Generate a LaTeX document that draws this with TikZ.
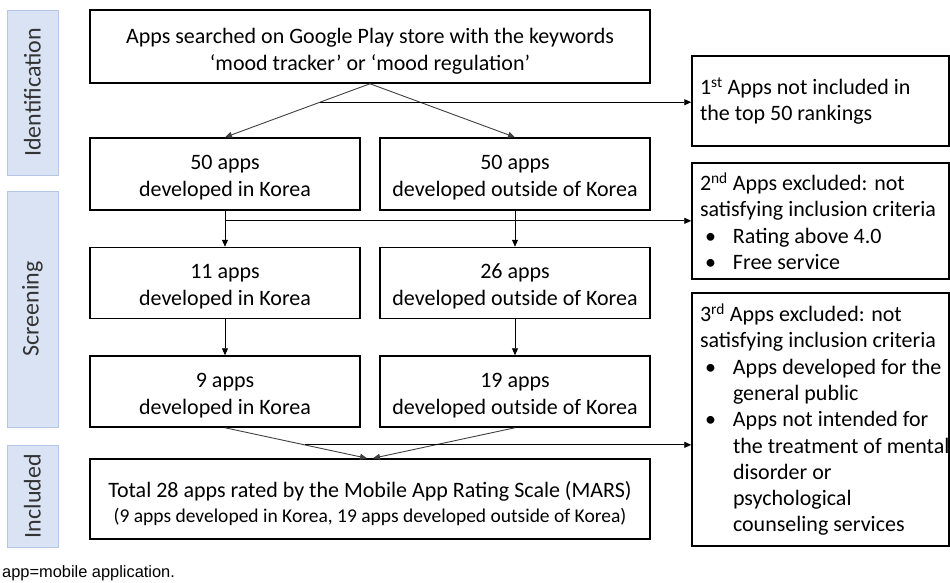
\documentclass[tikz,border=0pt]{standalone}
\usepackage{fontspec}
\setmainfont{Carlito}
\newfontfamily\notefont{Liberation Sans}
\usetikzlibrary{arrows.meta,calc}
\definecolor{sideFill}{HTML}{DAE3F3}
\definecolor{sideBorder}{HTML}{B4C7E7}
\newcommand{\bulletItem}[1]{\mbox{\hspace*{5pt}\makebox[28pt][l]{\textbullet}#1}}
\newcommand{\bulletCont}[1]{\mbox{\hspace*{33pt}#1}}
\newcommand{\boxStrut}[1]{\rule{0pt}{#1}}

\begin{document}
\begin{tikzpicture}[x=1pt, y=-1pt,
    boxStyle/.style={rectangle, draw, line width=1.5pt, align=center, inner sep=0pt, font=\fontsize{22}{27}\selectfont},
    exclStyle/.style={rectangle, draw, line width=1.5pt, align=flush left, inner xsep=8pt, inner ysep=0pt, text width=241pt, font=\fontsize{22}{26.3}\selectfont},
    sideStyle/.style={rectangle, draw=sideBorder, fill=sideFill, line width=1pt, rotate=90, minimum height=51pt, text=black!80, font=\fontsize{24}{28}\selectfont},
    lineStyle/.style={line width=0.9pt, -{Triangle[length=7pt, width=6pt]}}]
                    \useasboundingbox (0, 0) rectangle (950, 582);

                    % phase labels on the left
                    \node[sideStyle, minimum width=165pt](side_id)  at (32.5,  92.5) {Identification};
                    \node[sideStyle, minimum width=236pt](side_scr) at (32.5, 309)   {Screening};
                    \node[sideStyle, minimum width=102pt](side_inc) at (32.5, 496)   {Included};

                    \node[boxStyle, minimum width=560pt, minimum height=73pt](search) at (370, 46.5) {\boxStrut{24pt}Apps searched on Google Play store with the keywords\\`mood tracker' or `mood regulation'};

                    \node[boxStyle, minimum width=270pt, minimum height=72pt](n50_K) at (225, 174) {\boxStrut{22pt}50 apps\\developed in Korea};
                    \node[boxStyle, minimum width=270pt, minimum height=72pt](n50_O) at (515, 174) {\boxStrut{22pt}50 apps\\developed outside of Korea};

                    \node[boxStyle, minimum width=270pt, minimum height=71pt](n11_K) at (225, 283) {\boxStrut{22pt}11 apps\\developed in Korea};
                    \node[boxStyle, minimum width=270pt, minimum height=71pt](n26_O) at (515, 283) {\boxStrut{22pt}26 apps\\developed outside of Korea};

                    \node[boxStyle, minimum width=270pt, minimum height=71pt](n9_K)  at (225, 391.5) {\boxStrut{22pt}9 apps\\developed in Korea};
                    \node[boxStyle, minimum width=270pt, minimum height=71pt](n19_O) at (515, 391.5) {\boxStrut{22pt}19 apps\\developed outside of Korea};

                    \node[boxStyle, minimum width=560pt, minimum height=80pt](total) at (370, 499) {\boxStrut{26pt}Total 28 apps rated by the Mobile App Rating Scale (MARS)\\[-2pt]{\fontsize{19.5}{25}\selectfont (9 apps developed in Korea, 19 apps developed outside of Korea)}};

                    % exclusion boxes on the right
                    \node[exclStyle, minimum height=90pt](excl_1) at (820.5, 101) {1\textsuperscript{st} Apps not included in\\the top 50 rankings};
                    \node[exclStyle, minimum height=116pt](excl_2) at (820.5, 221) {2\textsuperscript{nd} Apps excluded: not\\\mbox{satisfying inclusion criteria}\\\bulletItem{Rating above 4.0}\\\bulletItem{Free service}};
                    \node[exclStyle, minimum height=253pt](excl_3) at (820.5, 419.5) {3\textsuperscript{rd} Apps excluded: not\\\mbox{satisfying inclusion criteria}\\\bulletItem{Apps developed for the}\\\bulletCont{general public}\\\bulletItem{Apps not intended for}\\\bulletCont{the treatment of mental}\\\bulletCont{disorder or}\\\bulletCont{psychological}\\\bulletCont{counseling services}};

                    \node[anchor=base west, inner sep=0pt, font=\notefont\fontsize{16.4}{19}\selectfont](note) at (2, 577) {app=mobile application.};

                    \coordinate (split_1) at ($(search.south)!0.345!(n50_K.north)$);
                    \coordinate (split_2) at ($(n50_K.south)!0.28!(n11_K.north)$);
                    \coordinate (split_3) at ($(n9_K.south)!0.56!([xshift=-3pt]total.north)$);

                    \draw[lineStyle, draw=black!75] (search.south) -- (n50_K.north);
                    \draw[lineStyle, draw=black!75] (search.south) -- (n50_O.north);
                    \draw[lineStyle] (split_1) -- (split_1 -| excl_1.west);

                    \draw[lineStyle] (n50_K.south) -- (n11_K.north);
                    \draw[lineStyle] (n50_O.south) -- (n26_O.north);
                    \draw[lineStyle] (split_2) -- (split_2 -| excl_2.west);

                    \draw[lineStyle] (n11_K.south) -- (n9_K.north);
                    \draw[lineStyle] (n26_O.south) -- (n19_O.north);

                    \draw[lineStyle, draw=black!75] (n9_K.south)  -- ([xshift=-3pt]total.north);
                    \draw[lineStyle, draw=black!75] (n19_O.south) -- ([xshift=3pt]total.north);
                    \draw[lineStyle] (split_3) -- (split_3 -| excl_3.west);
                \end{tikzpicture}
\end{document}
